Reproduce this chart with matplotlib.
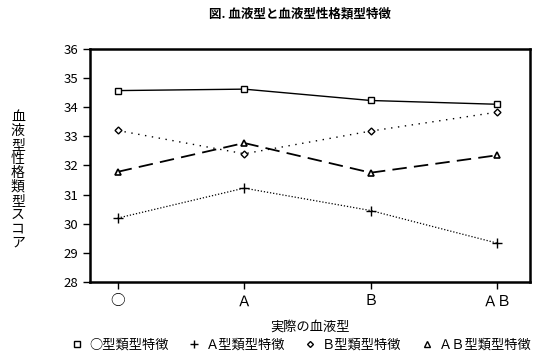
import matplotlib
matplotlib.use("Agg")
import matplotlib.pyplot as plt
from matplotlib.lines import Line2D

plt.rcParams["font.family"] = ["Noto Sans CJK JP", "DejaVu Sans"]

# data
blood_types = ["○", "Ａ", "Ｂ", "ＡＢ"]
score_o = [34.57, 34.62, 34.23, 34.10]
score_a = [30.19, 31.22, 30.45, 29.33]
score_b = [33.20, 32.40, 33.18, 33.83]
score_ab = [31.78, 32.77, 31.75, 32.35]
series_names = ["○型類型特徴", "Ａ型類型特徴", "Ｂ型類型特徴", "ＡＢ型類型特徴"]
y_ticks = [28, 29, 30, 31, 32, 33, 34, 35, 36]

fig = plt.figure(figsize=(5.41, 3.6), dpi=100)
ax = fig.add_axes([0.166, 0.217, 0.814, 0.647])

x = range(len(blood_types))
ax.plot(x, score_o, color="black", lw=1.0, ls="-", marker="s", ms=5, mfc="white", mec="black", mew=1.0)
ax.plot(x, score_a, color="black", lw=0.9, ls=(0, (1, 1.5)), marker="+", ms=7, mew=1.0)
ax.plot(x, score_b, color="black", lw=1.0, ls=(0, (1, 4)), marker="D", ms=3.5, mfc="white", mec="black", mew=1.0)
ax.plot(x, score_ab, color="black", lw=1.3, ls=(0, (8, 4)), marker="^", ms=5, mfc="white", mec="black", mew=1.2)

ax.set_xlim(-0.22, 3.26)
ax.set_ylim(28, 36)
ax.set_yticks(y_ticks)
ax.set_xticks(list(x))
ax.set_xticklabels(blood_types, fontsize=10.5)
ax.tick_params(axis="y", labelsize=9.5, length=5, width=1.0, direction="out")
ax.tick_params(axis="x", length=5, width=1.0, direction="out", pad=4)
for sp in ax.spines.values():
    sp.set_linewidth(1.8)

fig.text(0.555, 0.96, "図. 血液型と血液型性格類型特徴", ha="center", va="center", fontsize=9, fontweight="bold")
fig.text(0.033, 0.5, "\n".join("血液型性格類型スコア"), ha="center", va="center", fontsize=10, linespacing=1.0)
fig.text(0.573, 0.092, "実際の血液型", ha="center", va="center", fontsize=9.5)

handles = [
    Line2D([], [], ls="none", marker="s", color="black", mfc="white", ms=4),
    Line2D([], [], ls="none", marker="+", color="black", ms=6),
    Line2D([], [], ls="none", marker="D", color="black", mfc="white", ms=3),
    Line2D([], [], ls="none", marker="^", color="black", mfc="white", ms=4),
]
fig.legend(handles, series_names, loc="center", bbox_to_anchor=(0.555, 0.04), ncol=4,
           frameon=False, fontsize=9.5, handletextpad=0.3, columnspacing=1.3, handlelength=1.2,
           borderaxespad=0, borderpad=0)

fig.savefig("out.png", dpi=100)
